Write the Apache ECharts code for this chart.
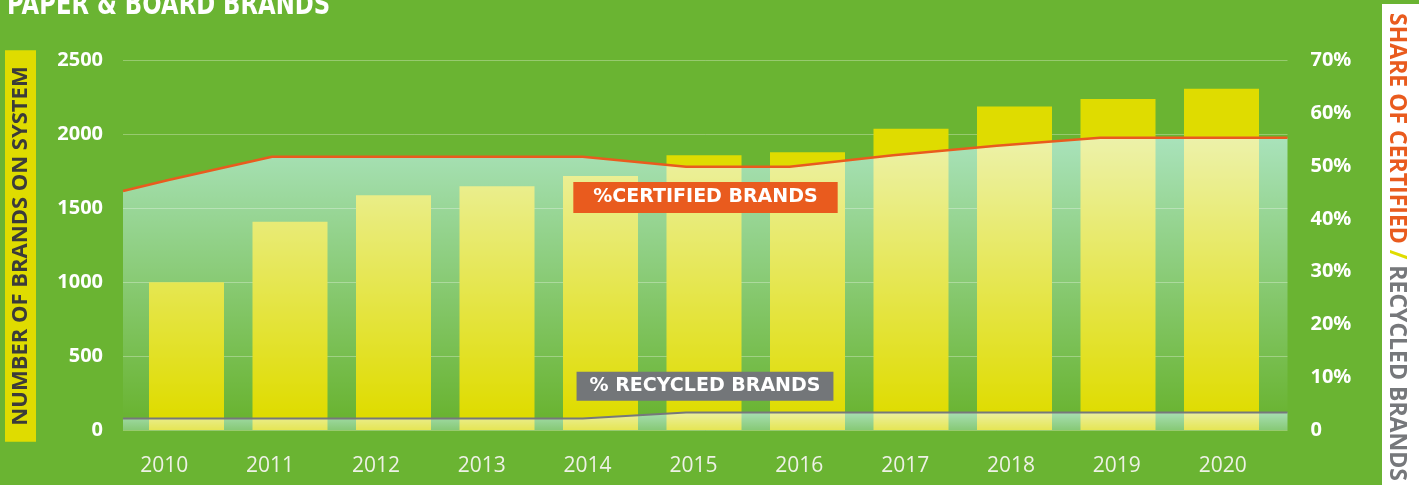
<!DOCTYPE html>
<html>
<head>
<meta charset="utf-8">
<script src="https://cdn.jsdelivr.net/npm/echarts@6/dist/echarts.min.js"></script>
<style>
  html, body { margin: 0; padding: 0; background: #6ab432; }
  #chart { width: 1419px; height: 485px; }
</style>
</head>
<body>
<div id="chart"></div>
<script>
// data
const years = ['2010', '2011', '2012', '2013', '2014', '2015', '2016', '2017', '2018', '2019', '2020'];
const brandsOnSystem = [1000, 1410, 1590, 1650, 1720, 1860, 1880, 2040, 2190, 2240, 2310];

// share lines run edge to edge of the plot, so they get the two edge points too
const shareX = [2009.56, 2010, 2011, 2012, 2013, 2014, 2015, 2016, 2017, 2018, 2019, 2020, 2020.81];
const certifiedShare = [45.3, 47.4, 51.8, 51.8, 51.8, 51.8, 49.9, 49.9, 52.1, 53.9, 55.4, 55.4, 55.4];
const recycledShare = [2.2, 2.2, 2.2, 2.2, 2.2, 2.2, 3.3, 3.3, 3.3, 3.3, 3.3, 3.3, 3.3];

const brandsMax = 2500, brandsStep = 500;
const shareMax = 70, shareStep = 10;

const GREEN = '#6ab432';
const YELLOW = '#dfdc00';
const ORANGE = '#e95b1e';
const GREY = '#76787b';

const pairs = (xs, ys) => xs.map((x, i) => [x, ys[i]]);

const chart = echarts.init(document.getElementById('chart'));

const option = {
  backgroundColor: GREEN,
  animation: false,
  grid: [
    // bars
    { left: 134.75, right: 145.75, top: 60.7, bottom: 55 },
    // share lines + gridlines + both axes labels
    { left: 123, right: 131.5, top: 60.7, bottom: 55 },
    // year labels
    { left: 164.2, right: 196.3, top: 60.7, bottom: 55 }
  ],
  xAxis: [
    { gridIndex: 0, type: 'category', data: years, boundaryGap: true, show: false },
    { gridIndex: 1, type: 'value', min: shareX[0], max: shareX[shareX.length - 1], show: false },
    {
      gridIndex: 2, type: 'category', data: years, boundaryGap: false,
      axisLine: { show: false }, axisTick: { show: false },
      axisLabel: { interval: 0, color: '#eef1e6', fontSize: 21, fontFamily: 'Open Sans', margin: 26 }
    }
  ],
  yAxis: [
    { gridIndex: 0, type: 'value', min: 0, max: brandsMax, interval: brandsStep, show: false },
    {
      gridIndex: 1, type: 'value', position: 'left', min: 0, max: brandsMax, interval: brandsStep,
      axisLine: { show: false }, axisTick: { show: false },
      axisLabel: {
        color: '#fff', fontSize: 20, fontWeight: 'bold', fontFamily: 'Open Sans', margin: 20,
        formatter: v => String(v)
      },
      splitLine: { lineStyle: { color: 'rgba(255,255,255,0.3)', width: 1 } }
    },
    {
      gridIndex: 1, type: 'value', position: 'right', min: 0, max: shareMax, interval: shareStep,
      axisLine: { show: false }, axisTick: { show: false }, splitLine: { show: false },
      axisLabel: {
        color: '#fff', fontSize: 20, fontWeight: 'bold', fontFamily: 'Open Sans', margin: 23,
        formatter: v => (v === 0 ? '0' : v + '%')
      }
    },
    { gridIndex: 2, type: 'value', show: false }
  ],
  series: [
    {
      type: 'bar', xAxisIndex: 0, yAxisIndex: 0,
      data: brandsOnSystem, barWidth: 75,
      itemStyle: { color: YELLOW }
    },
    {
      // light wash under the certified line
      type: 'line', xAxisIndex: 1, yAxisIndex: 2,
      data: pairs(shareX, certifiedShare),
      symbol: 'none', lineStyle: { width: 0 },
      blendMode: 'screen',
      areaStyle: {
        opacity: 1,
        color: new echarts.graphic.LinearGradient(0, 0, 0, 1, [
          { offset: 0, color: 'rgb(108,158,170)' },
          { offset: 0.95, color: 'rgb(0,0,0)' }
        ])
      }
    },
    {
      type: 'line', xAxisIndex: 1, yAxisIndex: 2,
      data: pairs(shareX, recycledShare),
      symbol: 'none', lineStyle: { width: 0 },
      blendMode: 'screen',
      areaStyle: {
        opacity: 1,
        color: new echarts.graphic.LinearGradient(0, 0, 0, 1, [
          { offset: 0, color: 'rgb(105,145,160)' },
          { offset: 1, color: 'rgb(50,72,85)' }
        ])
      }
    },
    {
      type: 'line', xAxisIndex: 1, yAxisIndex: 2,
      data: pairs(shareX, certifiedShare),
      symbol: 'none', lineStyle: { color: ORANGE, width: 2.5 }
    },
    {
      type: 'line', xAxisIndex: 1, yAxisIndex: 2,
      data: pairs(shareX, recycledShare),
      symbol: 'none', lineStyle: { color: GREY, width: 2 }
    }
  ],
  graphic: [
    {
      // condensed display title, only its lower half is inside the picture
      type: 'text', x: 7, y: 6, scaleX: 0.76,
      style: {
        text: 'PAPER & BOARD BRANDS',
        font: 'bold 30px "DejaVu Sans"',
        fill: '#fff', align: 'left', verticalAlign: 'middle'
      }
    },
    {
      type: 'text', x: 20.5, y: 246, rotation: Math.PI / 2,
      style: {
        text: 'NUMBER OF BRANDS ON SYSTEM',
        font: 'bold 22px "Open Sans"', lineHeight: 22,
        fill: '#3b3b3b', align: 'center', verticalAlign: 'middle',
        backgroundColor: YELLOW, padding: [5, 16, 4, 16]
      }
    },
    {
      type: 'text', x: 1410, y: 4, rotation: -Math.PI / 2,
      style: {
        text: '{o|SHARE OF CERTIFIED} {y|/} {g|RECYCLED BRANDS}',
        font: 'bold 23px "Open Sans"', lineHeight: 23,
        align: 'left', verticalAlign: 'middle',
        backgroundColor: '#fff', padding: [30, 60, 3, 9],
        rich: {
          o: { fill: ORANGE, font: 'bold 23px "Open Sans"', lineHeight: 23 },
          y: { fill: YELLOW, font: 'bold 23px "Open Sans"', lineHeight: 23 },
          g: { fill: GREY, font: 'bold 23px "Open Sans"', lineHeight: 23 }
        }
      }
    },
    {
      type: 'text', x: 705.5, y: 197.5, z: 10,
      style: {
        text: '%CERTIFIED BRANDS',
        font: 'bold 19px "DejaVu Sans"', lineHeight: 19,
        fill: '#fff', align: 'center', verticalAlign: 'middle',
        backgroundColor: ORANGE, padding: [6, 20, 6, 20]
      }
    },
    {
      type: 'text', x: 705, y: 386.3, z: 10,
      style: {
        text: '% RECYCLED BRANDS',
        font: 'bold 19px "DejaVu Sans"', lineHeight: 19,
        fill: '#fff', align: 'center', verticalAlign: 'middle',
        backgroundColor: '#737679', padding: [5, 13, 5, 13]
      }
    }
  ]
};

chart.setOption(option);
</script>
</body>
</html>
